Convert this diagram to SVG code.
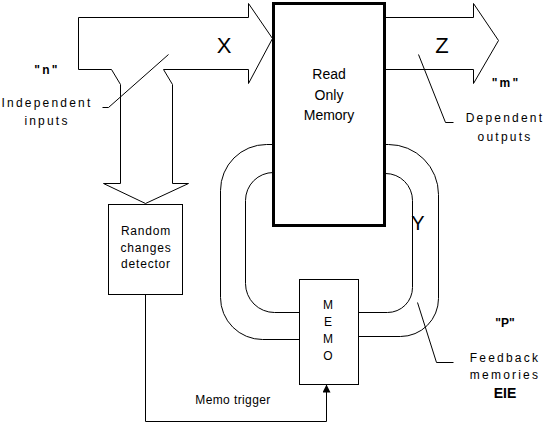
<svg xmlns="http://www.w3.org/2000/svg" width="554" height="423" viewBox="0 0 554 423">
<style>
.ln{fill:none;stroke:#000;stroke-width:1}
.t{font-family:"Liberation Sans",Arial,sans-serif;fill:#000}
.sp{font-size:12px;letter-spacing:2.2px}
.b{font-weight:bold}
</style>
<defs>
<marker id="ah" markerWidth="8" markerHeight="8" refX="8" refY="4" orient="auto" markerUnits="userSpaceOnUse" viewBox="0 0 8 8">
<path d="M0,0 L8,4 L0,8 Z" fill="#000"/>
</marker>
</defs>
<rect width="554" height="423" fill="#fff"/>
<g id="connectors">
<path class="ln" d="M248,17 H78 V69 H111 L120,84 V183 H103 L145,203 L188,183 H172 V84 L163,69 H248 V83 L272,38 L248,3 Z" transform="translate(0.5,0.5)"/>
<path class="ln" d="M385,17 H473 V3 L498,40 L473,83 V69 H385" transform="translate(0.5,0.5)"/>
<path class="ln" d="M273,144 H266 A46,46 0 0 0 220,190 V297 A42,42 0 0 0 262,339 H299" transform="translate(0.5,0.5)"/>
<path class="ln" d="M273,172 A28,28 0 0 0 245,200 V283 A29,29 0 0 0 274,312 H299" transform="translate(0.5,0.5)"/>
<path class="ln" d="M385,144 H388 A50,50 0 0 1 438,194 V298 A38,38 0 0 1 400,336 H358" transform="translate(0.5,0.5)"/>
<path class="ln" d="M385,173 A27,27 0 0 1 412,200 V287 A25,25 0 0 1 387,312 H358" transform="translate(0.5,0.5)"/>
<path class="ln" d="M145,294 V421 H326 V384" marker-end="url(#ah)" transform="translate(0.5,0.5)"/>
<path class="ln" d="M102,107 H108 L168,54" transform="translate(0.5,0.5)"/>
<path class="ln" d="M418,54 L445,122 H453" transform="translate(0.5,0.5)"/>
<path class="ln" d="M417,302 L436,362 H453" transform="translate(0.5,0.5)"/>
</g>
<g id="rom">
<rect x="273.5" y="3.5" width="111" height="222" fill="#fff" stroke="#000" stroke-width="3"/>
<text class="t" font-size="14" text-anchor="middle"><tspan x="329" y="79">Read</tspan><tspan x="329" y="100">Only</tspan><tspan x="329" y="120">Memory</tspan></text>
</g>
<g id="detector">
<rect x="108.5" y="204.5" width="74" height="90" fill="#fff" stroke="#000"/>
<text class="t" font-size="12" text-anchor="middle" letter-spacing="0.8"><tspan x="146" y="235">Random</tspan><tspan x="146" y="252">changes</tspan><tspan x="146" y="268">detector</tspan></text>
</g>
<g id="memo">
<rect x="299.5" y="279.5" width="59" height="105" fill="#fff" stroke="#000"/>
<text class="t" font-size="12" text-anchor="middle"><tspan x="328" y="309">M</tspan><tspan x="328" y="326">E</tspan><tspan x="328" y="343">M</tspan><tspan x="328" y="360">O</tspan></text>
</g>
<g id="labels">
<text class="t" x="224" y="53" font-size="22" text-anchor="middle">X</text>
<text class="t" x="442" y="53" font-size="22" text-anchor="middle">Z</text>
<text class="t" x="418" y="230" font-size="20" text-anchor="middle">Y</text>
<text class="t sp b" x="47" y="74" text-anchor="middle">"n"</text>
<text class="t sp" x="47" y="107" text-anchor="middle">Independent</text>
<text class="t sp" x="47" y="125" text-anchor="middle">inputs</text>
<text class="t sp b" x="506" y="87" text-anchor="middle">"m"</text>
<text class="t sp" x="505" y="122" text-anchor="middle">Dependent</text>
<text class="t sp" x="505" y="141" text-anchor="middle">outputs</text>
<text class="t b" x="505" y="327" font-size="12" text-anchor="middle">"P"</text>
<text class="t sp" x="505" y="362" text-anchor="middle">Feedback</text>
<text class="t sp" x="505" y="379" text-anchor="middle">memories</text>
<text class="t b" x="505" y="398" font-size="14" text-anchor="middle">EIE</text>
<text class="t" x="233" y="404" font-size="12" text-anchor="middle" letter-spacing="0.4">Memo trigger</text>
</g>
</svg>
